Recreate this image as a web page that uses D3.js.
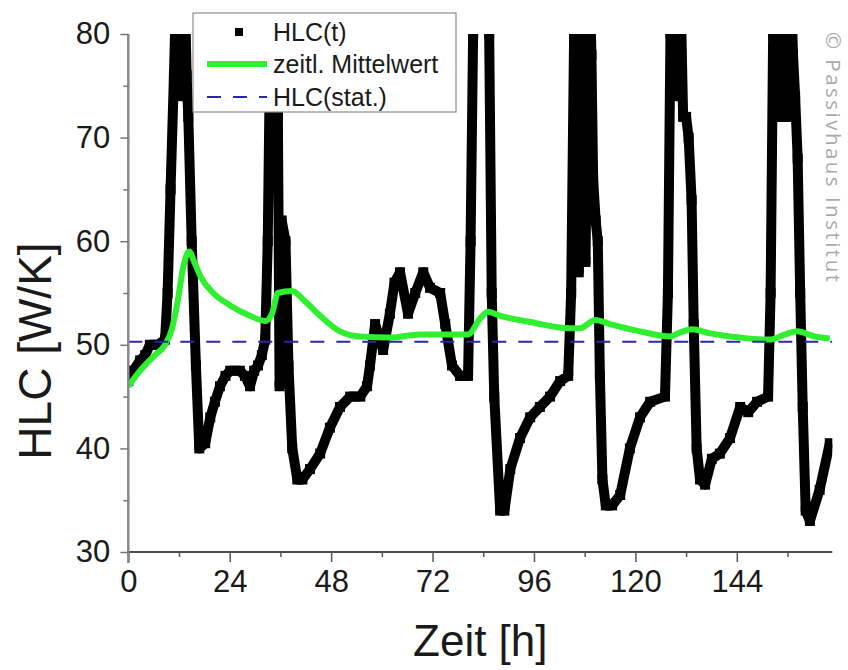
<!DOCTYPE html>
<html>
<head>
<meta charset="utf-8">
<script src="https://cdn.jsdelivr.net/npm/d3@7"></script>
<style>
  html, body { margin: 0; padding: 0; background: #fff; }
  svg { display: block; }
</style>
</head>
<body>
<svg id="chart" width="848" height="670"></svg>
<script>
// Heat loss coefficient over one week: measured values, running mean, steady-state value
const hlcTime = [0, 1.2, 2.8, 4.0, 5.1, 7.0, 8.7, 9.3, 10.0, 10.8, 11.3, 12.0, 12.6, 13.2, 13.8, 14.2,
  15.0, 16.0, 16.8, 18.2, 19.4, 20.5, 21.7, 23.0, 24.1, 26.4, 27.6, 28.8, 29.8, 30.7, 31.6, 32.4,
  33.0, 33.6, 34.4, 35.2, 35.4, 35.8, 36.3, 37.2, 37.9, 38.8, 40.0, 41.2, 43.0, 45.4, 47.7, 50.1,
  52.5, 54.9, 56.5, 57.2, 58.4, 60.3, 61.9, 63.0, 64.3, 66.2, 67.9, 69.8, 71.4, 73.8, 75.0, 76.6,
  78.5, 80.4, 81.0, 81.6, 83.5, 85.4, 86.0, 86.6, 88.0, 89.0, 90.4, 92.7, 95.1, 97.4, 99.8, 102.2,
  104.1, 104.8, 105.5, 106.0, 106.6, 107.4, 108.2, 109.0, 109.6, 110.0, 110.6, 111.1, 111.6, 112.2,
  113.0, 114.5, 116.4, 118.7, 121.1, 123.5, 127.0, 127.7, 128.3, 129.0, 129.8, 130.5, 131.3, 132.0,
  132.6, 133.3, 133.8, 134.5, 135.3, 136.5, 138.1, 140.0, 142.4, 144.8, 146.7, 148.8, 151.4, 152.0,
  152.6, 153.3, 154.2, 155.0, 155.8, 156.6, 157.3, 157.8, 158.4, 159.0, 159.6, 160.3, 161.3, 163.6,
  166.0];
const hlcValue = [46.5, 47.5, 48.5, 49, 50, 50, 50.5, 55, 65, 76, 84, 88, 74, 88, 76, 72,
  60, 48, 40, 40.5, 43, 44.5, 46, 47, 47.5, 47.5, 47, 46, 47.5, 48, 49, 50.5,
  60, 80, 88, 80, 72, 46, 62, 60, 48, 40, 37, 37, 38, 39.5, 42, 44,
  45, 45, 46, 48, 52, 49.5, 53, 56, 57, 53, 55, 57, 55.5, 55, 52, 48,
  47, 47, 60, 80, 90, 80, 55, 45, 34, 34, 38, 41, 43, 44, 45, 46.5,
  47, 55, 80, 88, 57, 88, 58, 88, 78, 66, 62, 60, 47, 37,
  34.5, 34.5, 35.5, 40, 43, 44.5, 45, 55, 80, 88, 74, 88, 72, 72,
  70, 64, 52, 40, 37, 36.5, 39, 39.5, 41, 44, 43.5, 44.5, 45, 55,
  80, 88, 72, 88, 72, 88, 78, 74, 68, 55, 44, 34, 33, 36,
  40.5];

const meanTime = [0, 2.8, 6.3, 8.7, 10.3, 11.8, 13.0, 14.4, 15.6, 17.2, 20.1, 24.1, 28.8, 32.4, 34.0, 35.4,
  38.7, 41.8, 45.4, 50.1, 54.9, 61.9, 69.0, 76.1, 80.4, 83.2, 85.1, 88.0, 95.1, 104.5, 106.9, 110.5,
  114.0, 121.1, 128.2, 130.6, 133.4, 137.7, 144.8, 151.8, 155.4, 158.3, 162.5, 166.0];
const meanValue = [46, 47.5, 49, 50, 51.5, 54.5, 57.5, 59, 58, 56.5, 55, 53.8, 52.8, 52.3, 53, 55,
  55.2, 54.2, 52.8, 51.3, 50.8, 50.7, 51, 51, 51, 52.5, 53.2, 52.8, 52.2, 51.6, 51.6, 52.4,
  52, 51.3, 50.8, 51.2, 51.5, 51.1, 50.7, 50.5, 51, 51.3, 50.8, 50.6];

const hlcStat = 50.3;

const xMajorTicks = [0, 24, 48, 72, 96, 120, 144];
const xMinorTicks = [12, 36, 60, 84, 108, 132, 156];
const yMajorTicks = [30, 40, 50, 60, 70, 80];
const yMinorTicks = [35, 45, 55, 65, 75];

const legendLabels = ["HLC(t)", "zeitl. Mittelwert", "HLC(stat.)"];
const xTitle = "Zeit [h]";
const yTitle = "HLC [W/K]";
const credit = "© Passivhaus Institut";

const svg = d3.select("#chart");
const plotLeft = 128.3, plotRight = 832.3, plotTop = 34, plotBottom = 552;

const x = d3.scaleLinear().domain([0, 166.6]).range([plotLeft, plotRight]);
const y = d3.scaleLinear().domain([30, 80]).range([plotBottom, plotTop]);

const font = "'Liberation Sans', Arial, sans-serif";

svg.append("defs").append("clipPath").attr("id", "plotClip")
  .append("rect").attr("x", plotLeft).attr("y", plotTop)
  .attr("width", plotRight - plotLeft).attr("height", plotBottom - plotTop);

const plot = svg.append("g").attr("clip-path", "url(#plotClip)");

const hlcPoints = hlcTime.map((t, i) => [t, hlcValue[i]]);
const meanPoints = meanTime.map((t, i) => [t, meanValue[i]]);

// measured series: thick trace with square markers
plot.append("path")
  .datum(hlcPoints)
  .attr("d", d3.line().x(d => x(d[0])).y(d => y(d[1])))
  .attr("fill", "none")
  .attr("stroke", "#000")
  .attr("stroke-width", 10)
  .attr("stroke-linejoin", "round");

const sq = 10;
plot.append("g").selectAll("rect")
  .data(hlcPoints)
  .join("rect")
  .attr("x", d => x(d[0]) - sq / 2)
  .attr("y", d => y(d[1]) - sq / 2)
  .attr("width", sq).attr("height", sq)
  .attr("fill", "#000");

// running mean
plot.append("path")
  .datum(meanPoints)
  .attr("d", d3.line().curve(d3.curveMonotoneX).x(d => x(d[0])).y(d => y(d[1])))
  .attr("fill", "none")
  .attr("stroke", "#2ef02e")
  .attr("stroke-width", 6)
  .attr("stroke-linejoin", "round");

// steady-state value
plot.append("line")
  .attr("x1", x(0)).attr("x2", x(166.6))
  .attr("y1", y(hlcStat)).attr("y2", y(hlcStat))
  .attr("stroke", "#2828a8")
  .attr("stroke-width", 2)
  .attr("stroke-dasharray", "14,12");

// x axis
const xAxis = svg.append("g").attr("transform", `translate(0,${plotBottom})`)
  .call(d3.axisBottom(x).tickValues(xMajorTicks).tickSize(10).tickPadding(8).tickFormat(d3.format("d")));
xAxis.select(".domain").attr("d", `M${plotLeft},0H${plotRight}`).attr("stroke", "#111").attr("stroke-width", 1.5);
xAxis.selectAll(".tick line").attr("stroke", "#555").attr("stroke-width", 1.5);
xAxis.selectAll(".tick text").attr("font-family", font).attr("font-size", 31).attr("fill", "#1a1a1a");
svg.append("g").attr("transform", `translate(0,${plotBottom})`)
  .call(d3.axisBottom(x).tickValues(xMinorTicks).tickSize(5).tickFormat(""))
  .call(g => g.select(".domain").remove())
  .selectAll(".tick line").attr("stroke", "#555").attr("stroke-width", 1.5);

// y axis
const yAxis = svg.append("g").attr("transform", `translate(${plotLeft},0)`)
  .call(d3.axisLeft(y).tickValues(yMajorTicks).tickSize(8).tickPadding(10).tickFormat(d3.format("d")));
yAxis.select(".domain").attr("d", `M0,${plotTop}V${plotBottom + 11}`).attr("stroke", "#8a8a8a").attr("stroke-width", 2.5);
yAxis.selectAll(".tick line").attr("stroke", "#777").attr("stroke-width", 1.5);
yAxis.selectAll(".tick text").attr("font-family", font).attr("font-size", 31).attr("fill", "#1a1a1a");
svg.append("g").attr("transform", `translate(${plotLeft},0)`)
  .call(d3.axisLeft(y).tickValues(yMinorTicks).tickSize(5).tickFormat(""))
  .call(g => g.select(".domain").remove())
  .selectAll(".tick line").attr("stroke", "#777").attr("stroke-width", 1.5);

// axis titles
svg.append("text")
  .attr("x", (plotLeft + plotRight) / 2).attr("y", 656)
  .attr("text-anchor", "middle")
  .attr("font-family", font).attr("font-size", 44).attr("fill", "#1a1a1a")
  .text(xTitle);
svg.append("text")
  .attr("transform", "translate(51,351) rotate(-90)")
  .attr("text-anchor", "middle")
  .attr("font-family", font).attr("font-size", 46).attr("fill", "#1a1a1a")
  .text(yTitle);

// legend
const lg = svg.append("g");
lg.append("rect").attr("x", 193).attr("y", 13).attr("width", 263).attr("height", 99)
  .attr("fill", "#fff").attr("stroke", "#8c8c8c").attr("stroke-width", 1.2);
const rowY = [32, 64, 97];
lg.append("rect").attr("x", 235).attr("y", rowY[0] - 4).attr("width", 8).attr("height", 8).attr("fill", "#000");
lg.append("line").attr("x1", 207).attr("x2", 267).attr("y1", rowY[1]).attr("y2", rowY[1])
  .attr("stroke", "#2ef02e").attr("stroke-width", 6);
lg.append("line").attr("x1", 207).attr("x2", 267).attr("y1", rowY[2]).attr("y2", rowY[2])
  .attr("stroke", "#2828a8").attr("stroke-width", 2).attr("stroke-dasharray", "14,12");
lg.selectAll("text.lab").data(legendLabels).join("text")
  .attr("class", "lab")
  .attr("x", 273).attr("y", (d, i) => rowY[i] + 9)
  .attr("font-family", font).attr("font-size", 25).attr("fill", "#1a1a1a")
  .text(d => d);

// credit line
svg.append("text")
  .attr("transform", "translate(826,32) rotate(90)")
  .attr("font-family", "'Open Sans', sans-serif").attr("font-size", 20.5).attr("fill", "#a9a9a9")
  .attr("textLength", 250).attr("lengthAdjust", "spacing")
  .text(credit);
</script>
</body>
</html>
